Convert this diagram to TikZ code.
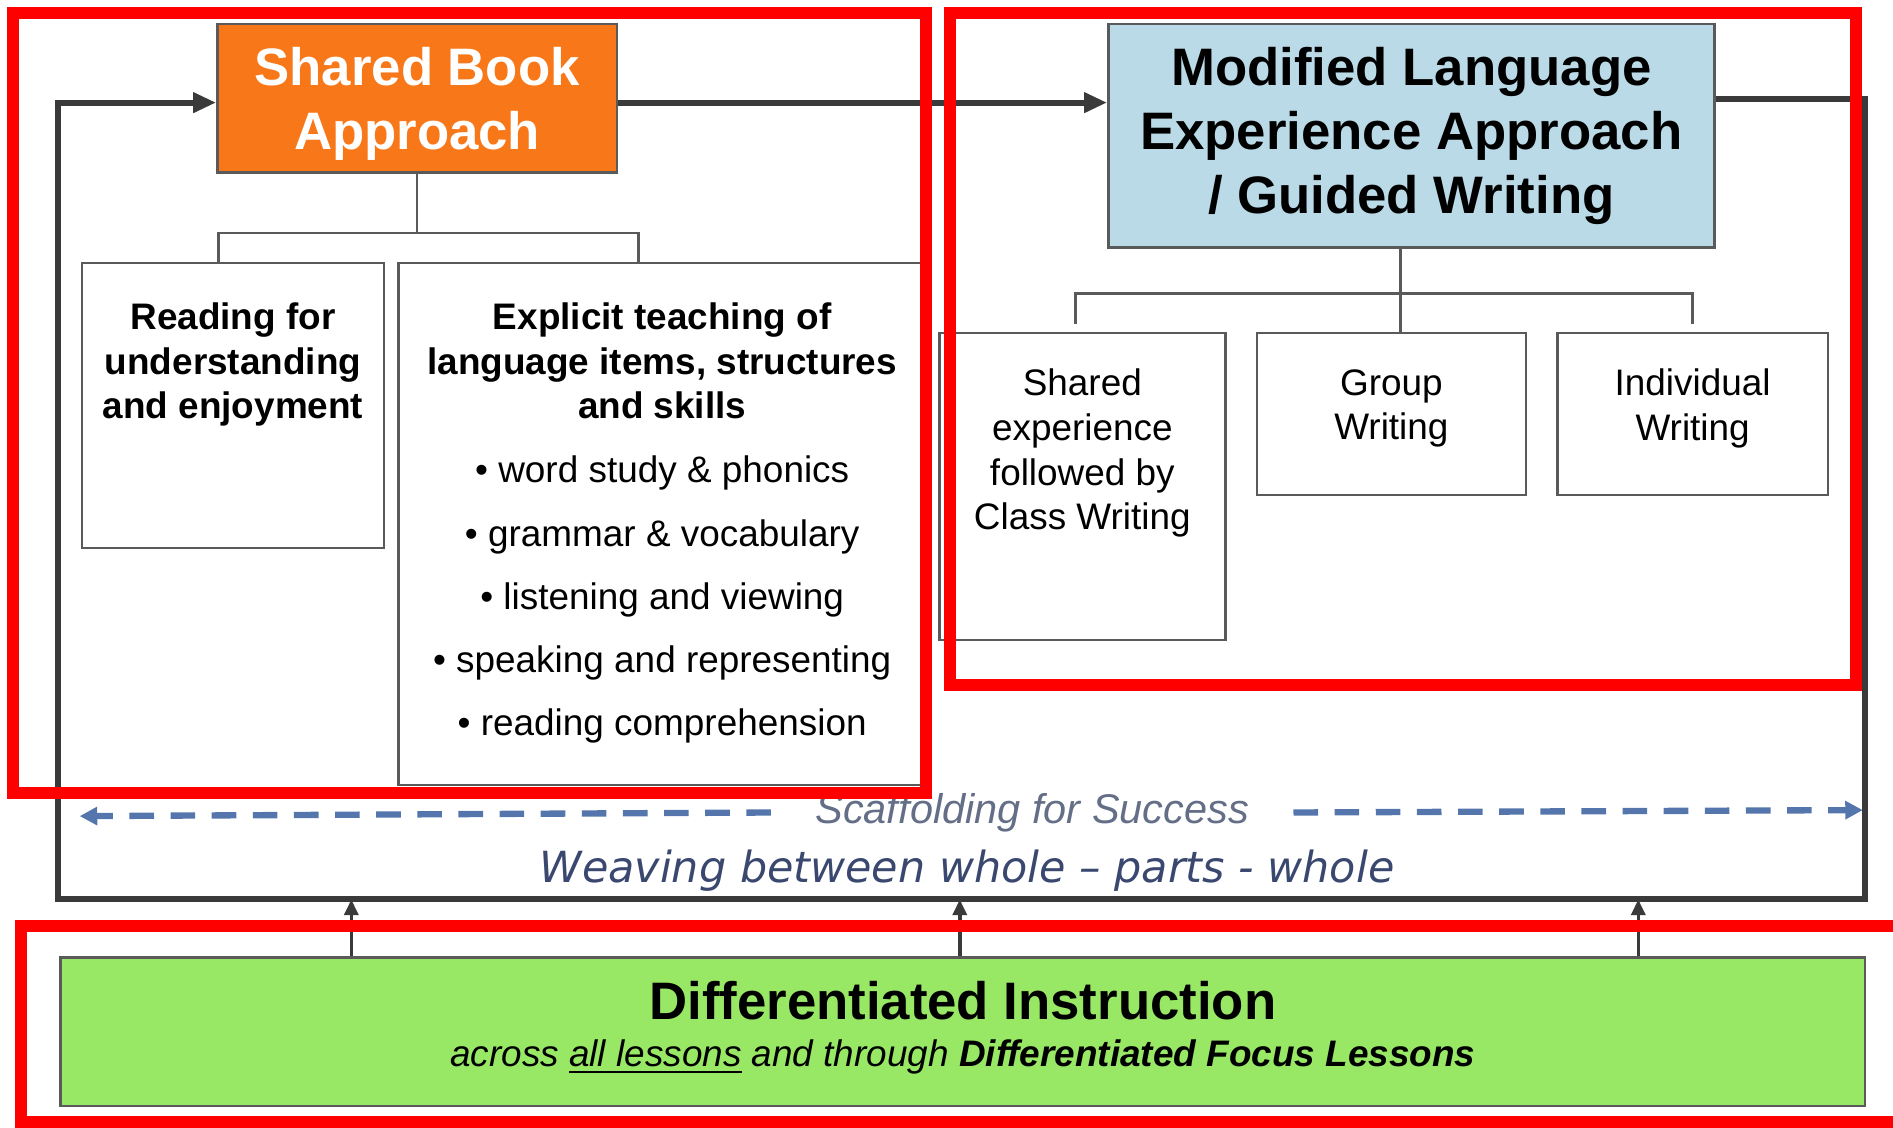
\documentclass[tikz,border=0pt]{standalone}
\usepackage{fontspec}
\setmainfont{Liberation Sans}
\newfontfamily\weavefont{DejaVu Sans}
\usepackage{tikz}
\usetikzlibrary{positioning}
\usetikzlibrary{arrows}
\usetikzlibrary{arrows.meta}
\usetikzlibrary{calc}
\definecolor{sborange}{RGB}{248,119,24}
\definecolor{mlblue}{RGB}{185,218,230}
\definecolor{digreen}{RGB}{152,232,102}
\definecolor{framegray}{RGB}{58,58,58}
\definecolor{boxgray}{RGB}{90,90,90}
\definecolor{scafblue}{RGB}{84,118,172}
\definecolor{scaftext}{RGB}{100,110,135}
\definecolor{weavetext}{RGB}{58,72,112}
\definecolor{markred}{RGB}{255,0,0}
\newcommand\spx{0.012073cm}

\begin{document}
\begin{tikzpicture}[
            > = stealth, % arrow head style
            x = \spx, y = -\spx, % one unit = one pixel of the sketch
            semithick % line style
        ]

        \tikzstyle{box}=[draw = boxgray, line width = 0.7pt, inner sep = 0pt]
        \tikzstyle{title}=[box, align = center, font = \fontsize{15}{18.2}\selectfont\bfseries]
        \tikzstyle{boxtext}=[inner sep = 0pt, align = center, font = \fontsize{10.5}{12.7}\selectfont]
        \tikzstyle{boxbold}=[boxtext, font = \fontsize{10.5}{12.7}\selectfont\bfseries]
        \tikzstyle{tree}=[draw = boxgray, line width = 0.7pt]
        \tikzstyle{frame}=[draw = framegray, line width = 1.7pt, > = {Triangle[length=6.5pt, width=5.5pt]}]
        \tikzstyle{up}=[draw = framegray, line width = 1pt, > = {Triangle[length=4.5pt, width=4pt]}]
        \tikzstyle{scaf}=[draw = scafblue, line width = 1.8pt, dash pattern = on 7pt off 4.7pt, > = {Triangle[length=5pt, width=5pt]}]
        \tikzstyle{marker}=[draw = markred, line width = 3.4pt]

        \useasboundingbox (0,0) rectangle (1568,934);

	% approaches
        \node[title, fill = sborange, text = white, minimum width = 331*\spx, minimum height = 123*\spx] (sba) at (345.5,81.5) {\rule{0pt}{13.8pt}Shared Book\\Approach};
        \node[title, fill = mlblue, minimum width = 502*\spx, minimum height = 185*\spx] (mlea) at (1169,112.5) {Modified Language\\Experience Approach\\/ Guided Writing};

	% shared book parts
        \node[box, minimum width = 250*\spx, minimum height = 236*\spx] (rfu) at (193,336) {};
        \node[box, minimum width = 437*\spx, minimum height = 432*\spx] (expl) at (548.5,434) {};
        \node[boxbold] (rfu-t) [below = 33*\spx of rfu.north] {Reading for\\understanding\\and enjoyment};
        \node[boxtext] (expl-t) [below = 33*\spx of expl.north] {\textbf{Explicit teaching of}\\\textbf{language items, structures}\\\textbf{and skills}\\[5.5pt]
            \textbullet{} word study \& phonics\\[5.3pt]
            \textbullet{} grammar \& vocabulary\\[5.3pt]
            \textbullet{} listening and viewing\\[5.3pt]
            \textbullet{} speaking and representing\\[5.3pt]
            \textbullet{} reading comprehension};

	% writing parts
        \node[box, minimum width = 237*\spx, minimum height = 254*\spx] (sec) at (896.5,403) {};
        \node[box, minimum width = 223*\spx, minimum height = 134*\spx] (grp) at (1152.5,343) {};
        \node[box, minimum width = 224*\spx, minimum height = 134*\spx] (ind) at (1402,343) {};
        \node[boxtext] (sec-t) [below = 30*\spx of sec.north] {Shared\\experience\\followed by\\Class Writing};
        \node[boxtext] (grp-t) [below = 30*\spx of grp.north] {Group\\Writing};
        \node[boxtext] (ind-t) [below = 30*\spx of ind.north] {Individual\\Writing};

	% tree lines
        \coordinate (b1) at (181,193);
        \coordinate (b2) at (529,193);
        \draw[tree] (sba.south) -- (sba.south |- b1);
        \draw[tree] (rfu.north -| b1) |- (b2) -- (b2 |- expl.north);

        \coordinate (m0) at (1160,243);
        \coordinate (m1) at (891,268);
        \coordinate (m2) at (1402,268);
        \draw[tree] (mlea.south -| m0) -- (m0 |- grp.north);
        \draw[tree] (m1) |- (m0) -| (m2);

	% differentiated instruction
        \node[box, fill = digreen, align = center, minimum width = 1495*\spx, minimum height = 123*\spx] (diff) at (797.5,854.5)
            {{\fontsize{15}{18}\selectfont\bfseries Differentiated Instruction}\\[1.5pt]
             {\fontsize{10.5}{12.7}\selectfont\itshape across \underline{all lessons} and through \textbf{Differentiated Focus Lessons}\rule[-4.5pt]{0pt}{1pt}}};

	% loop round the approaches
        \coordinate (fbl) at (48,745);
        \coordinate (fbr) at (1545,745);
        \coordinate (ftl) at (48,85);
        \coordinate (ftr) at (1545,82);
        \draw[frame, ->] (sba.east |- ftl) -- (mlea.west |- ftl);
        \draw[frame, ->, line join = miter] (mlea.east |- ftr) -- (ftr) -- (fbr) -- (fbl) -- (ftl) -- (sba.west |- ftl);

        \coordinate (u1) at (291,745);
        \coordinate (u2) at (795,745);
        \coordinate (u3) at (1357,745);
        \draw[up, ->] (diff.north -| u1) -- (u1);
        \draw[up, ->] (diff.north -| u2) -- (u2);
        \draw[up, ->] (diff.north -| u3) -- (u3);

	% scaffolding and weaving
        \node[inner xsep = 36*\spx, text = scaftext, font = \fontsize{11.8}{14}\selectfont\itshape] (scaf) at (855,673) {Scaffolding for Success};
        \coordinate (sl) at (66,676);
        \coordinate (sr) at (1543,671);
        \draw[scaf, ->] (scaf.west) -- (sl);
        \draw[scaf, ->] (scaf.east) -- (sr);
        \node[text = weavetext, font = \weavefont\fontsize{12.2}{15}\selectfont\itshape] (weave) at (801,721) {Weaving between whole – parts - whole};

	% red marks
        \draw[marker] (11,11) rectangle (767,657);
        \draw[marker] (787,11) rectangle (1537,567);
        \draw[marker] (17,767) rectangle (1590,929);

  \end{tikzpicture}
\end{document}
